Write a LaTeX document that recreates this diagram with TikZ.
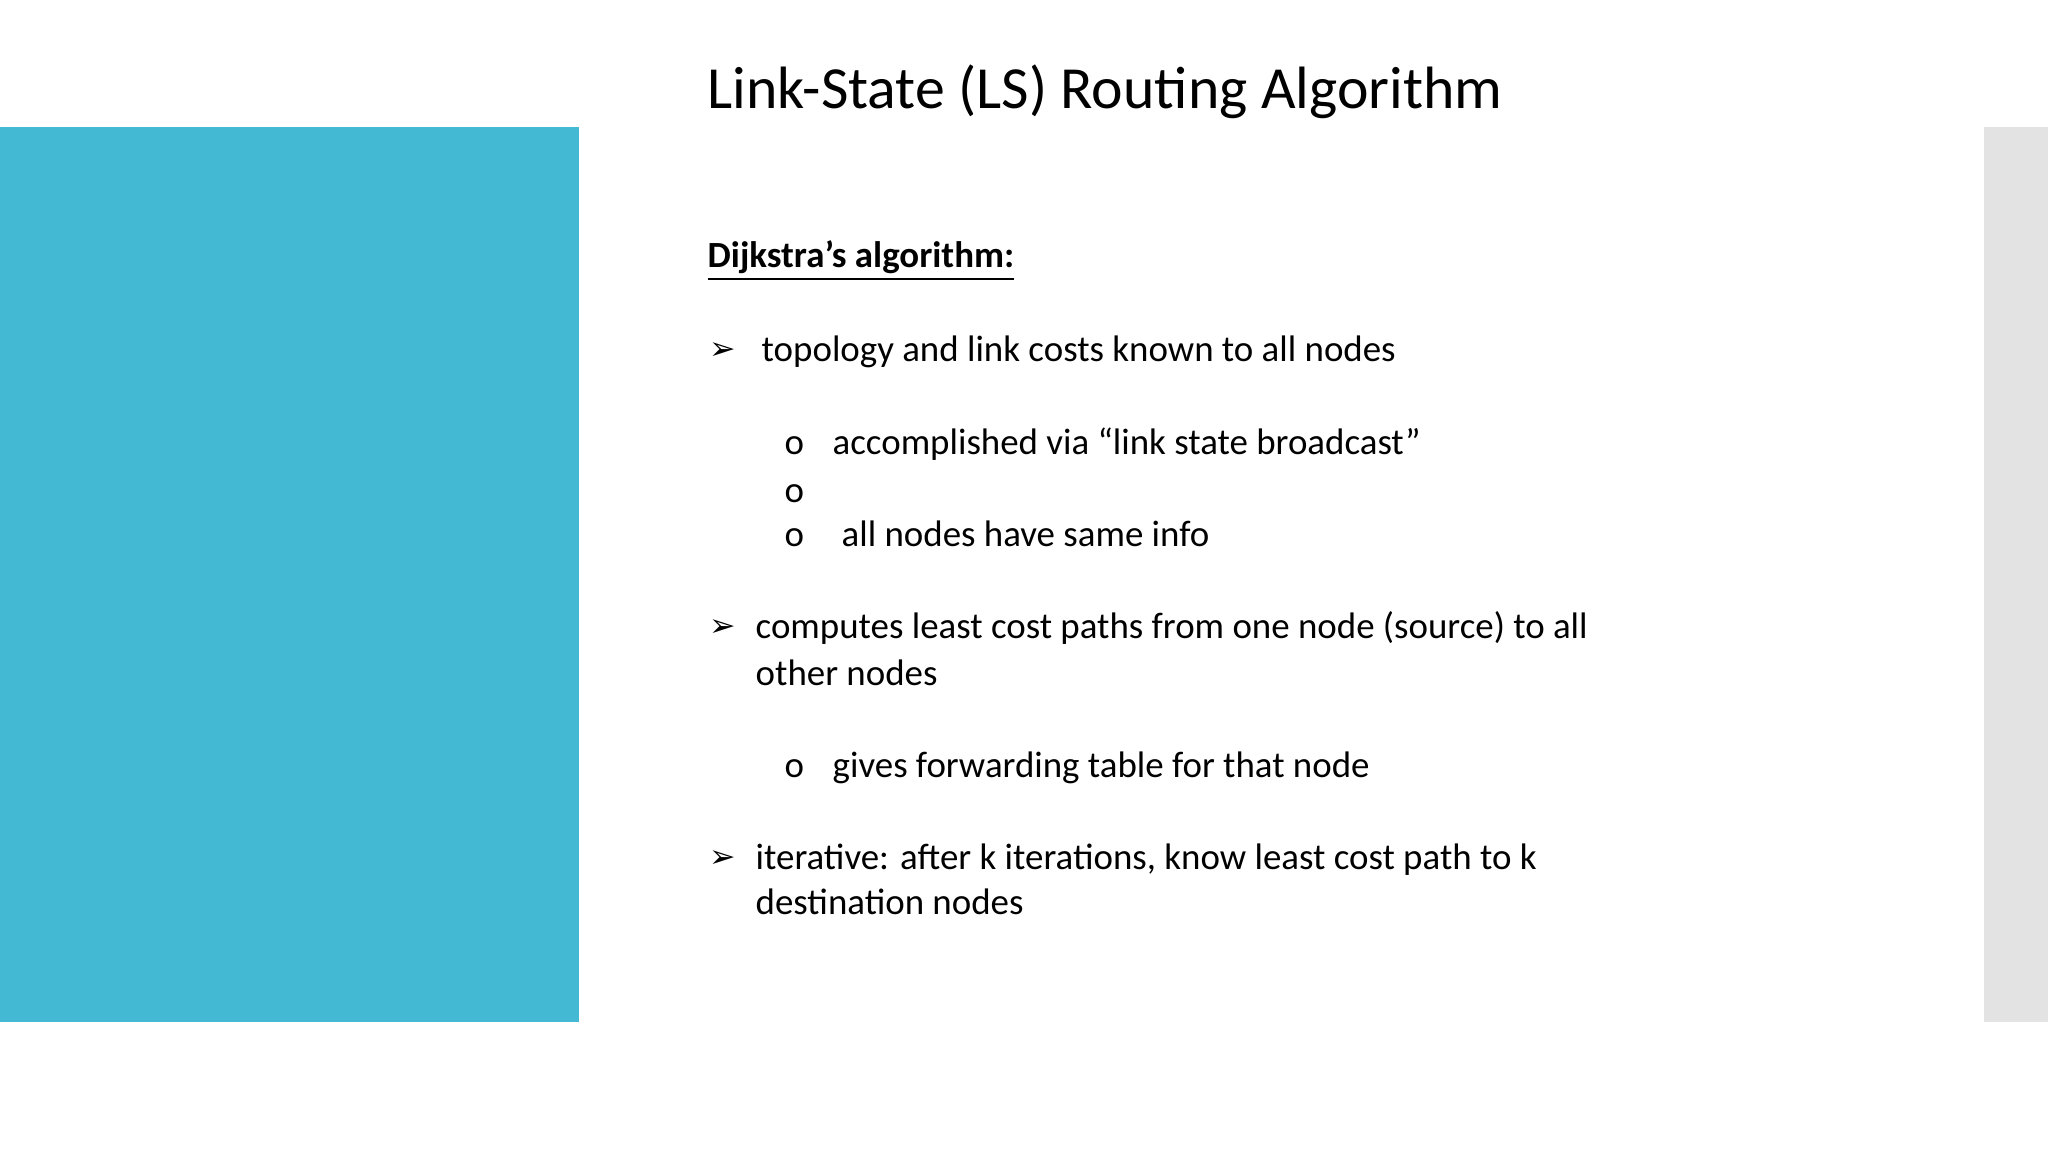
\documentclass[tikz,border=0pt]{standalone}
\usepackage{fontspec}
\setmainfont{Carlito}
\newfontfamily\symf{DejaVu Sans}
\definecolor{blueband}{HTML}{43B9D3}
\definecolor{grayband}{HTML}{E3E3E3}
\begin{document}
\begin{tikzpicture}[x=1cm,y=-1cm,
  txt/.style={anchor=base west,inner sep=0pt,font=\fontsize{10.5pt}{13pt}\selectfont},
  arr/.style={anchor=base west,inner sep=0pt,font=\symf\fontsize{9pt}{11pt}\selectfont},
  sub/.style={anchor=base west,inner sep=0pt,font=\fontsize{10.5pt}{13pt}\selectfont}]
\useasboundingbox (0,0) rectangle (20.48,11.52);
\fill[white] (0,0) rectangle (20.48,11.52);
\fill[blueband] (0,1.27) rectangle (5.79,10.22);
\fill[grayband] (19.84,1.27) rectangle (20.48,10.22);
\node[anchor=base west,inner sep=0pt,font=\fontsize{17pt}{20pt}\selectfont] (title) at (7.07,1.09) {Link-State (LS) Routing Algorithm};
\node[txt,font=\bfseries\fontsize{10.5pt}{13pt}\selectfont] (dij) at (7.07,2.68) {\underline{Dijkstra’s algorithm:}};
\node[arr] (a1) at (7.09,3.60) {➢};
\node[txt] (t1) at (7.61,3.62) {topology and link costs known to all nodes};
\node[sub] (o1) at (7.84,4.55) {o};
\node[txt] (t2) at (8.32,4.55) {accomplished via “link state broadcast”};
\node[sub] (o2) at (7.84,5.03) {o};
\node[sub] (o3) at (7.84,5.46) {o};
\node[txt] (t3) at (8.41,5.46) {all nodes have same info};
\node[arr] (a2) at (7.09,6.37) {➢};
\node[txt] (t4) at (7.55,6.39) {computes least cost paths from one node (source) to all};
\node[txt] (t5) at (7.55,6.85) {other nodes};
\node[sub] (o4) at (7.84,7.78) {o};
\node[txt] (t6) at (8.32,7.78) {gives forwarding table for that node};
\node[arr] (a3) at (7.09,8.67) {➢};
\node[txt] (t7) at (7.55,8.69) {iterative: after k iterations, know least cost path to k};
\node[txt] (t8) at (7.55,9.15) {destination nodes};
\end{tikzpicture}
\end{document}
